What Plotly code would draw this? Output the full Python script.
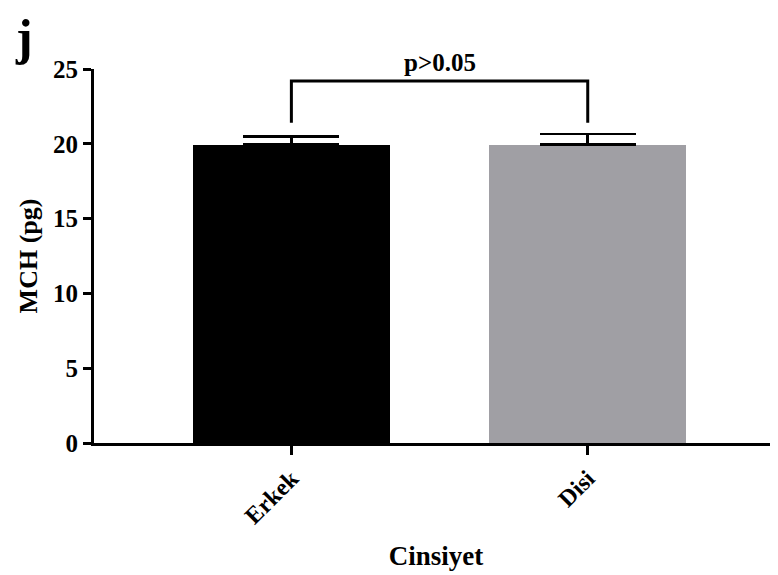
import plotly.graph_objects as go

categories = ["Erkek", "Disi"]
means = [19.95, 19.95]
sem = [0.55, 0.7]
bar_colors = ["#000000", "#a09fa4"]
y_ticks = [0, 5, 10, 15, 20, 25]
bracket_top = 24.2
bracket_bottom = 21.4
p_text = "p>0.05"

FONT = "Liberation Serif"

fig = go.Figure()
fig.add_trace(go.Bar(
    x=[0, 1], y=means, width=0.665,
    marker=dict(color=bar_colors, line=dict(width=0)),
    error_y=dict(type="data", array=sem, visible=True, color="black",
                 thickness=2.5, width=48, symmetric=False, arrayminus=[0, 0]),
    showlegend=False,
))
# significance bracket
fig.add_trace(go.Scatter(
    x=[0, 0, 1, 1], y=[bracket_bottom, bracket_top, bracket_top, bracket_bottom],
    mode="lines", line=dict(color="black", width=3), showlegend=False,
    hoverinfo="skip",
))
fig.add_annotation(x=0.5, y=bracket_top, text="<b>" + p_text + "</b>", showarrow=False,
                   yanchor="bottom", yshift=3, font=dict(family=FONT, size=25, color="black"))
fig.add_annotation(xref="paper", yref="paper", x=-0.102, y=1.086, text="<b>j</b>",
                   showarrow=False, xanchor="center", yanchor="middle",
                   font=dict(family=FONT, size=50, color="black"))

fig.update_layout(
    width=770, height=567,
    margin=dict(l=86, r=0, t=61, b=132),
    plot_bgcolor="white", paper_bgcolor="white",
    font=dict(family=FONT, color="black"),
    bargap=0,
)
fig.update_xaxes(
    range=[-0.666, 1.642],
    tickmode="array", tickvals=[0, 1], ticktext=["<b>" + c + "</b>" for c in categories],
    tickangle=-45, tickfont=dict(family=FONT, size=24, color="black"),
    ticks="outside", ticklen=9, tickwidth=2.5, tickcolor="black",
    showline=True, linecolor="black", linewidth=3, showgrid=False, zeroline=False,
    title=dict(text="<b>Cinsiyet</b>", font=dict(family=FONT, size=27, color="black"), standoff=19),
)
fig.update_yaxes(
    range=[0, 25], tickmode="array", tickvals=y_ticks,
    ticktext=["<b>%d</b>" % v for v in y_ticks],
    tickfont=dict(family=FONT, size=25, color="black"),
    ticks="outside", ticklen=8, tickwidth=2.5, tickcolor="black",
    showline=True, linecolor="black", linewidth=3, showgrid=False, zeroline=False,
    title=dict(text="<b>MCH (pg)</b>", font=dict(family=FONT, size=26, color="black"), standoff=8),
)
fig.write_html("out.html")
